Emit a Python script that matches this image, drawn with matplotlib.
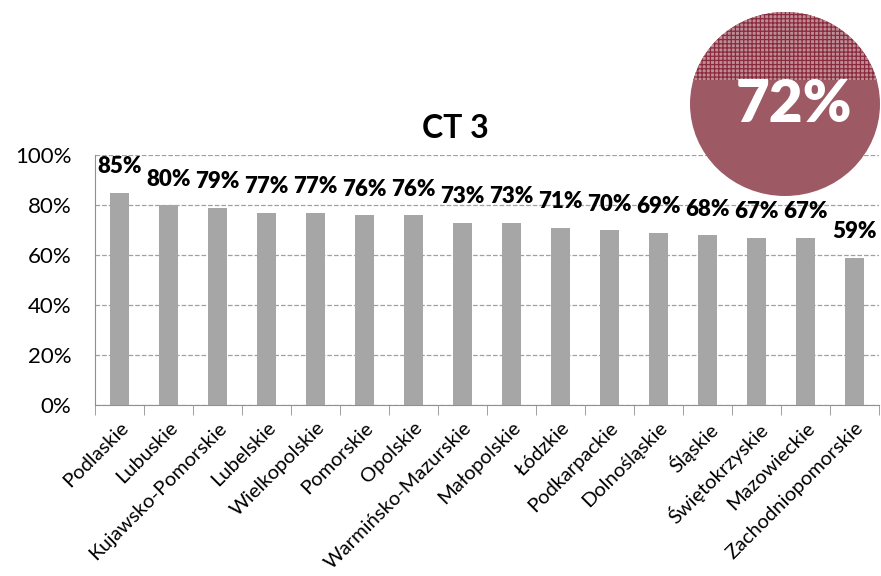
import numpy as np
import matplotlib
matplotlib.use('Agg')
import matplotlib.pyplot as plt
from matplotlib.patches import Ellipse, Rectangle

plt.rcParams['font.family'] = ['Lato', 'DejaVu Sans']
plt.rcParams['hatch.linewidth'] = 0.9

# data
regions = ['Podlaskie', 'Lubuskie', 'Kujawsko-Pomorskie', 'Lubelskie', 'Wielkopolskie',
           'Pomorskie', 'Opolskie', 'Warmińsko-Mazurskie', 'Małopolskie', 'Łódzkie',
           'Podkarpackie', 'Dolnośląskie', 'Śląskie', 'Świętokrzyskie', 'Mazowieckie',
           'Zachodniopomorskie']
values = [85, 80, 79, 77, 77, 76, 76, 73, 73, 71, 70, 69, 68, 67, 67, 59]
title = 'CT 3'
overall = 72

fig = plt.figure(figsize=(8.81, 5.76), dpi=100)
ax = fig.add_axes([95/881, (576-405)/576, 784/881, 250/576])

x = np.arange(len(regions))
ax.bar(x, [v/100 for v in values], width=0.39, color='#A6A6A6', zorder=3)
for xi, v in zip(x, values):
    ax.annotate('%d%%' % v, (xi, v/100), xytext=(0, 11), textcoords='offset points',
                ha='center', va='bottom', fontsize=16, fontweight='heavy', color='black')

ax.set_xlim(-0.5, len(regions) - 0.5)
ax.set_ylim(0, 1)
yt = np.arange(0, 1.01, 0.2)
ax.set_yticks(yt)
ax.set_yticklabels(['%d%%' % int(round(t*100)) for t in yt], fontsize=16)
ax.yaxis.grid(True, linestyle='--', color='#A0A0A0', linewidth=0.9, zorder=0)
ax.tick_params(axis='y', length=0, pad=17)

ax.set_xticks(x)
ax.set_xticklabels(regions, rotation=45, ha='right', rotation_mode='anchor', fontsize=14.5)
ax.set_xticks(np.arange(-0.5, len(regions), 1), minor=True)
ax.tick_params(axis='x', which='major', length=0, pad=10)
ax.tick_params(axis='x', which='minor', length=7, color='#909090')

for s in ['top', 'right']:
    ax.spines[s].set_visible(False)
for s in ['left', 'bottom']:
    ax.spines[s].set_color('#909090')

ax.set_title(title, fontsize=23, fontweight='bold', pad=12, x=0.46)

# gauge circle
cax = fig.add_axes([690/881, (576-196)/576, 190/881, 184/576])
cax.set_xlim(-1, 1)
cax.set_ylim(-1, 1)
cax.axis('off')
circ = Ellipse((0, 0), 2, 2, facecolor='#9E5A64', edgecolor='none')
cax.add_patch(circ)
level = 0.26
top = Rectangle((-1, level), 2, 1 - level, facecolor='#BE8E96', edgecolor='#8A2A3E',
                hatch='++++', linewidth=0)
cax.add_patch(top)
top.set_clip_path(circ)
cax.text(0.1, 0.0, '%d%%' % overall, ha='center', va='center', color='white',
         fontsize=42, fontweight='heavy')

fig.savefig('out.png', dpi=100)
